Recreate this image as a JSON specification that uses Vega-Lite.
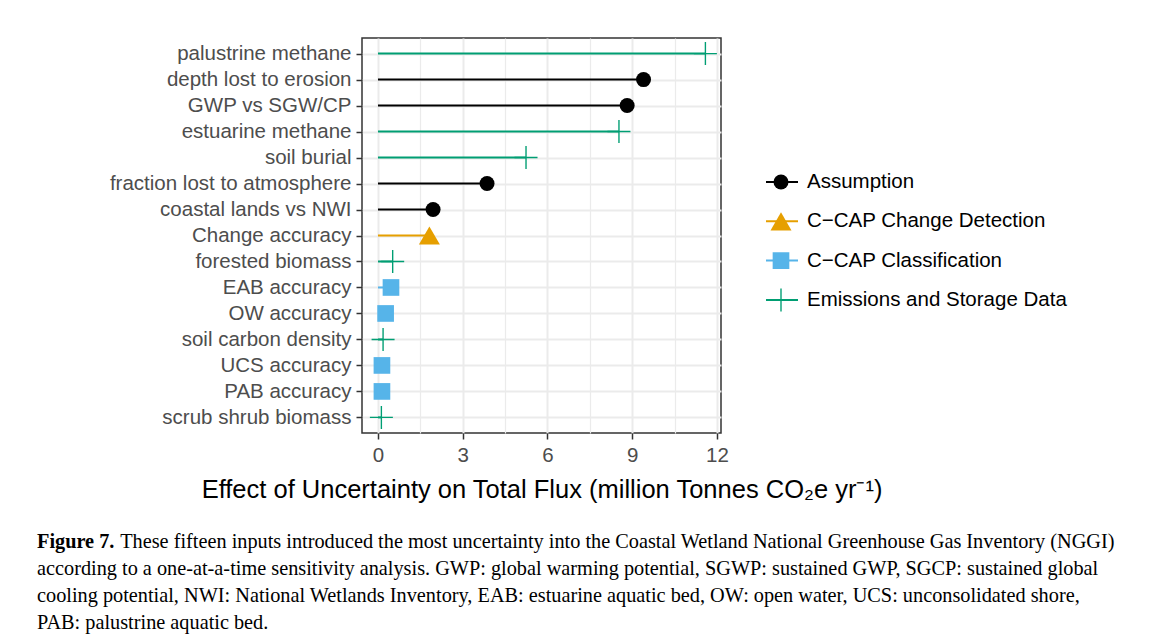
{
  "$schema": "https://vega.github.io/schema/vega-lite/v6.json",
  "autosize": {"type": "none"},
  "width": 359,
  "height": 395,
  "padding": {"left": 362, "top": 38, "right": 432, "bottom": 211},
  "background": "white",
  "data": {
    "values": [
      {"input": "palustrine methane", "type": "Emissions and Storage Data", "effect": 11.59},
      {"input": "depth lost to erosion", "type": "Assumption", "effect": 9.40},
      {"input": "GWP vs SGW/CP", "type": "Assumption", "effect": 8.82},
      {"input": "estuarine methane", "type": "Emissions and Storage Data", "effect": 8.53},
      {"input": "soil burial", "type": "Emissions and Storage Data", "effect": 5.24},
      {"input": "fraction lost to atmosphere", "type": "Assumption", "effect": 3.86},
      {"input": "coastal lands vs NWI", "type": "Assumption", "effect": 1.95},
      {"input": "Change accuracy", "type": "C−CAP Change Detection", "effect": 1.82},
      {"input": "forested biomass", "type": "Emissions and Storage Data", "effect": 0.52},
      {"input": "EAB accuracy", "type": "C−CAP Classification", "effect": 0.46},
      {"input": "OW accuracy", "type": "C−CAP Classification", "effect": 0.27},
      {"input": "soil carbon density", "type": "Emissions and Storage Data", "effect": 0.18},
      {"input": "UCS accuracy", "type": "C−CAP Classification", "effect": 0.14},
      {"input": "PAB accuracy", "type": "C−CAP Classification", "effect": 0.14},
      {"input": "scrub shrub biomass", "type": "Emissions and Storage Data", "effect": 0.12}
    ]
  },
  "title": {
    "text": "Figure 7.",
    "subtitle": [
      "\u200b\u2003\u2003\u2003\u2002\u2009\u2009\u2009These fifteen inputs introduced the most uncertainty into the Coastal Wetland National Greenhouse Gas Inventory (NGGI)",
      "according to a one-at-a-time sensitivity analysis. GWP: global warming potential, SGWP: sustained GWP, SGCP: sustained global",
      "cooling potential, NWI: National Wetlands Inventory, EAB: estuarine aquatic bed, OW: open water, UCS: unconsolidated shore,",
      "PAB: palustrine aquatic bed."
    ],
    "orient": "bottom",
    "anchor": "start",
    "frame": "group",
    "dx": -325,
    "offset": 29,
    "font": "Liberation Serif",
    "fontSize": 20.3,
    "fontWeight": "bold",
    "color": "black",
    "limit": 0,
    "subtitleFont": "Liberation Serif",
    "subtitleFontSize": 20.3,
    "subtitleColor": "black",
    "subtitleLineHeight": 27,
    "subtitlePadding": -20.3
  },
  "encoding": {
    "y": {
      "field": "input",
      "type": "nominal",
      "sort": null,
      "scale": {"type": "point", "padding": 0.6},
      "axis": {
        "title": null,
        "domain": false,
        "grid": true,
        "gridColor": "#EBEBEB",
        "gridWidth": 2,
        "labelFontSize": 20.5,
        "labelColor": "#4D4D4D",
        "labelFont": "Liberation Sans",
        "labelLimit": 0,
        "tickColor": "#333333",
        "tickWidth": 1.5,
        "tickSize": 6,
        "labelPadding": 5
      }
    },
    "x": {
      "field": "effect",
      "type": "quantitative",
      "scale": {"domain": [-0.566, 12.142], "nice": false, "zero": false},
      "axis": {
        "title": "Effect of Uncertainty on Total Flux (million Tonnes CO₂e yr⁻¹)",
        "values": [0, 1.5, 3, 4.5, 6, 7.5, 9, 10.5, 12],
        "labelExpr": "datum.value % 3 === 0 ? datum.label : ''",
        "tickOpacity": {"condition": {"test": "datum.value % 3 === 0", "value": 1}, "value": 0},
        "gridWidth": {"condition": {"test": "datum.value % 3 === 0", "value": 2}, "value": 1.2},
        "gridColor": "#EBEBEB",
        "grid": true,
        "domain": false,
        "labelFontSize": 20.5,
        "labelColor": "#4D4D4D",
        "labelFont": "Liberation Sans",
        "labelFlush": false,
        "labelOverlap": false,
        "tickColor": "#333333",
        "tickWidth": 1.5,
        "tickSize": 6,
        "labelPadding": 6,
        "titleFont": "Liberation Sans",
        "titleFontSize": 25.5,
        "titleFontWeight": "normal",
        "titleColor": "black",
        "titlePadding": 12,
        "titleLimit": 0
      }
    }
  },
  "layer": [
    {
      "mark": {"type": "rule", "strokeWidth": 2},
      "encoding": {
        "x2": {"datum": 0},
        "stroke": {
          "field": "type",
          "type": "nominal",
          "scale": {
            "domain": ["Assumption", "C−CAP Change Detection", "C−CAP Classification", "Emissions and Storage Data"],
            "range": ["#000000", "#E69F00", "#56B4E9", "#009E73"]
          },
          "legend": {
            "orient": "none",
            "legendX": 403,
            "legendY": 132,
            "title": null,
            "symbolType": "stroke",
            "symbolSize": 1024,
            "symbolStrokeWidth": 2,
            "clipHeight": 24,
            "rowPadding": 15.3,
            "labelFontSize": 20.5,
            "labelFont": "Liberation Sans",
            "labelColor": "black",
            "labelLimit": 0,
            "labelOffset": 8,
            "padding": 0
          }
        }
      }
    },
    {
      "mark": {"type": "point", "filled": true, "opacity": 1, "strokeWidth": 0},
      "encoding": {
        "color": {
          "field": "type",
          "type": "nominal",
          "scale": {"range": ["#000000", "#E69F00", "#56B4E9", "#009E73"]},
          "legend": {
            "orient": "none",
            "legendX": 403,
            "legendY": 132,
            "title": null,
            "clipHeight": 24,
            "rowPadding": 15.3,
            "symbolOffset": 4.5,
            "symbolOpacity": 1,
            "symbolStrokeWidth": 0,
            "labelExpr": "''",
            "labelFontSize": 20.5,
            "padding": 0
          }
        },
        "shape": {
          "field": "type",
          "type": "nominal",
          "scale": {"range": ["circle", "triangle-up", "square", "M-1,-0.06L1,-0.06L1,0.06L-1,0.06Z M-0.06,-1L0.06,-1L0.06,1L-0.06,1Z"]},
          "legend": {
            "orient": "none",
            "legendX": 403,
            "legendY": 132,
            "title": null,
            "clipHeight": 24,
            "rowPadding": 15.3,
            "symbolOffset": 4.5,
            "symbolOpacity": 1,
            "symbolStrokeWidth": 0,
            "labelExpr": "''",
            "labelFontSize": 20.5,
            "padding": 0
          }
        },
        "size": {
          "field": "type",
          "type": "nominal",
          "scale": {"type": "ordinal", "range": [225, 441, 278, 529]},
          "legend": {
            "orient": "none",
            "legendX": 403,
            "legendY": 132,
            "title": null,
            "clipHeight": 24,
            "rowPadding": 15.3,
            "symbolOffset": 4.5,
            "symbolOpacity": 1,
            "symbolStrokeWidth": 0,
            "labelExpr": "''",
            "labelFontSize": 20.5,
            "padding": 0
          }
        }
      }
    }
  ],
  "config": {
    "font": "Liberation Sans",
    "view": {"stroke": "#333333", "strokeWidth": 1.5}
  }
}
